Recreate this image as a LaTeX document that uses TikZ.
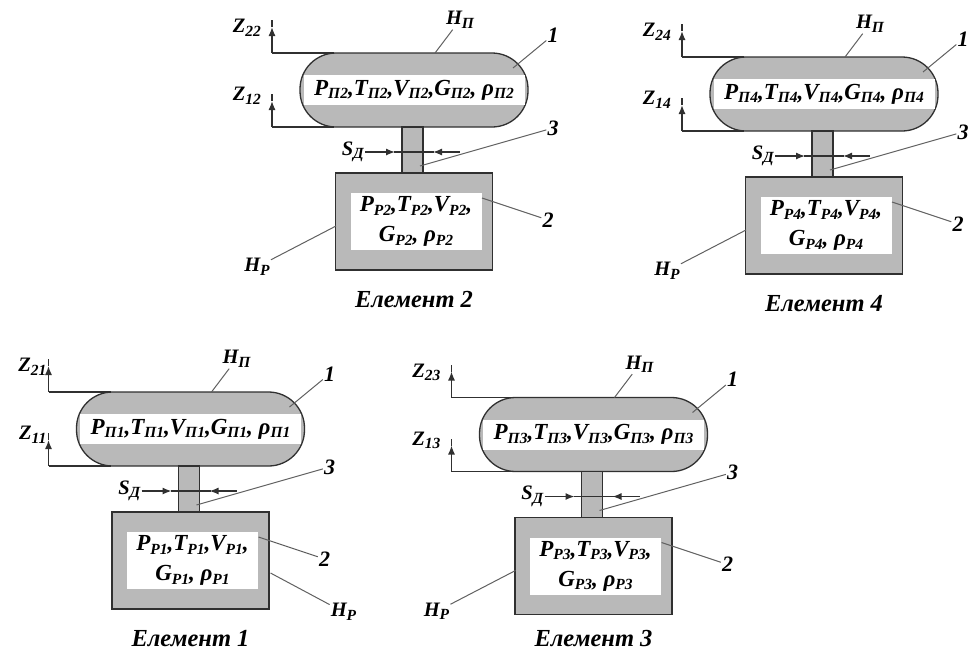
\documentclass[tikz,border=0pt]{standalone}
\usepackage{fontspec}
\setmainfont{Liberation Serif}
\usetikzlibrary{arrows.meta,positioning}
\definecolor{wallgray}{HTML}{B9B9B9}
\definecolor{inkgray}{HTML}{303030}
\definecolor{leadgray}{HTML}{606060}
\newcommand{\lowtxt}[1]{\raisebox{-3.5pt}{\fontsize{15.5}{16}\selectfont #1}}
\newcommand{\tanktxt}[1]{P\lowtxt{П#1},T\lowtxt{П#1},V\lowtxt{П#1},G\lowtxt{П#1}, ρ\lowtxt{П#1}}
\newcommand{\boxtxt}[1]{P\lowtxt{P#1},T\lowtxt{P#1},V\lowtxt{P#1},\\G\lowtxt{P#1}, ρ\lowtxt{P#1}}
% #1 number, #2 #3 tank centre, #4 shift of the Z labels, #5 #6 start and label of H_P, #7 caption gap
\newcommand{\element}[7]{
  \begin{scope}[shift={(#2,#3)},name prefix=e#1-]
    \node[wall,rounded corners=36pt,minimum width=228pt,minimum height=74pt] (tank) at (0,0) {};
    \node[hole,minimum width=221pt,minimum height=30pt] (band) at (tank.center) {\tanktxt{#1}};
    \node[wall,below=0pt of tank,xshift=-1.5pt,minimum width=21pt,minimum height=46pt] (neck) {};
    \node[wall,below=0pt of neck,xshift=1.5pt,minimum width=157pt,minimum height=97pt] (vessel) {};
    \node[hole,minimum width=131pt,minimum height=57pt] (core) at ([xshift=2pt]vessel.center) {\boxtxt{#1}};
    \node[capt,below=#7 of vessel] (capt) {Елемент #1};
    \coordinate (ztop) at (-142,-37);
    \coordinate (zlow) at (-142,37);
    \draw[dim] (ztop) -- ([xshift=62pt]ztop);
    \draw[dim] (zlow) -- ([xshift=62pt]zlow);
    \draw[dimhead] (ztop) -- ([yshift=26pt]ztop) coordinate (ztopt);
    \draw[dim] (ztopt) -- ([yshift=33pt]ztop) coordinate (ztope);
    \draw[dimhead] (zlow) -- ([yshift=26pt]zlow) coordinate (zlowt);
    \draw[dim] (zlowt) -- ([yshift=33pt]zlow) coordinate (zlowe);
    \node[lbl,left=#4 of ztope,yshift=-8pt] (z2) {Z\lowtxt{2#1}};
    \node[lbl,left=#4 of zlowe,yshift=-2pt] (z1) {Z\lowtxt{1#1}};
    \coordinate (sl) at (-49,62);
    \coordinate (sr) at (46,62);
    \draw[dimhead] (sl) -- (-19,62);
    \draw[dimhead] (sr) -- (19,62);
    \draw[dim] (-20,62) -- (20,62);
    \node[lbl,left=0pt of sl] (sd) {S\lowtxt{Д}};
    \node[lbl] (hn) at (46,-70) {H\lowtxt{П}};
    \node[num] (n1) at (139,-55) {1};
    \node[num] (n2) at (134,130) {2};
    \node[num] (n3) at (139,38) {3};
    \node[lbl] (hp) at (#6) {H\lowtxt{P}};
    \coordinate (a1) at (99,-22);
    \coordinate (a2) at (68,108);
    \coordinate (a3) at (6,76);
    \coordinate (an) at (21,-37);
    \coordinate (ap) at (#5);
    \draw[leader] (a1) -- (n1);
    \draw[leader] (a2) -- (n2);
    \draw[leader] (a3) -- (n3);
    \draw[leader] (an) -- (hn);
    \draw[leader] (ap) -- (hp);
  \end{scope}
}

\begin{document}
\begin{tikzpicture}[
      x=1pt,y=-1pt,
      wall/.style={rectangle,draw=inkgray,line width=1.3pt,fill=wallgray,inner sep=0pt,outer sep=0pt},
      hole/.style={rectangle,fill=white,inner sep=0pt,outer sep=0pt,align=center,text=black,font=\fontsize{23}{30}\selectfont\bfseries\itshape},
      lbl/.style={inner sep=1pt,text=black,font=\fontsize{20.5}{22}\selectfont\bfseries\itshape},
      num/.style={inner sep=1pt,text=black,font=\fontsize{22}{24}\selectfont\bfseries\itshape},
      capt/.style={inner sep=0pt,text=black,font=\fontsize{24.5}{26}\selectfont\bfseries\itshape},
      dim/.style={draw=inkgray,line width=1.3pt},
      dimhead/.style={draw=inkgray,line width=1.3pt,-{Latex[length=9pt,width=7pt]}},
      leader/.style={draw=leadgray,line width=1pt}
    ]
    \useasboundingbox (0,0) rectangle (969,657);
    \element{2}{414}{90}{10pt}{-78,136}{-157,177}{21pt}
    \element{4}{824}{94}{10pt}{-78,136}{-157,177}{21pt}
    \element{1}{190.5}{429}{1pt}{80,144}{153,183}{21pt}
    \element{3}{593.5}{434.5}{10pt}{-78,136}{-157,177}{16pt}
  \end{tikzpicture}
\end{document}
